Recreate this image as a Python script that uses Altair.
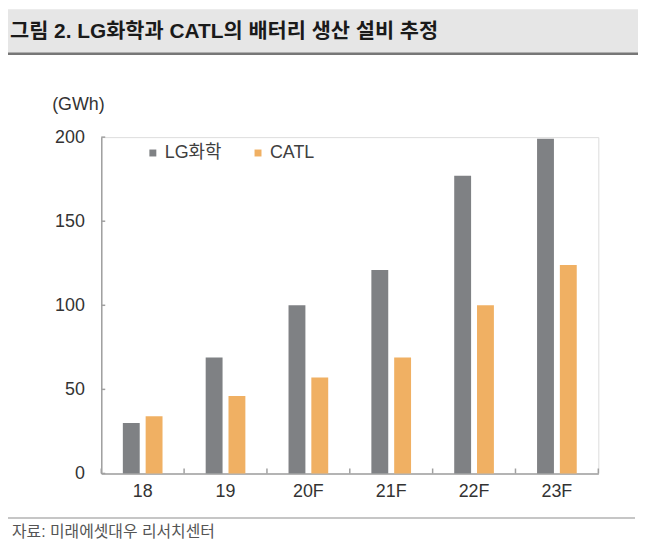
import altair as alt
import pandas as pd

# ---- data ----
categories = ["18", "19", "20F", "21F", "22F", "23F"]
series = ["LG화학", "CATL"]
lg_values = [30, 69, 100, 121, 177, 199]
catl_values = [34, 46, 57, 69, 100, 124]
y_ticks = [0, 50, 100, 150, 200]
colors = ["#7f8184", "#f0b063"]

title_text = "그림 2. LG화학과 CATL의 배터리 생산 설비 추정"
source_text = "자료: 미래에셋대우 리서치센터"
unit_text = "(GWh)"

FONT = "'Liberation Sans', 'Noto Sans CJK KR', sans-serif"
W, H = 501, 339
AXIS = "#a0a0a0"
LABEL = "#333333"

df = pd.DataFrame({
    "연도": categories * 2,
    "구분": [series[0]] * len(categories) + [series[1]] * len(categories),
    "값": lg_values + catl_values,
})
one = alt.Data(values=[{"k": 1}])

x_enc = alt.X(
    "연도:N", sort=categories,
    scale=alt.Scale(paddingInner=0, paddingOuter=0),
    axis=alt.Axis(title=None, labelAngle=0, ticks=False, labelPadding=9,
                  labelFontSize=18, labelColor=LABEL, domainColor=AXIS,
                  domainWidth=1.5, labelFont=FONT),
)

bars = alt.Chart(df).mark_bar().encode(
    x=x_enc,
    xOffset=alt.XOffset("구분:N", sort=series,
                        scale=alt.Scale(paddingInner=0.26, paddingOuter=0.946)),
    y=alt.Y("값:Q", scale=alt.Scale(domain=[0, 200], nice=False),
            axis=alt.Axis(values=y_ticks, title=unit_text, titleAngle=0,
                          titleX=-50, titleY=-33, titleAlign="left",
                          titleBaseline="middle", titleFontSize=18,
                          titleFontWeight="normal", titleColor=LABEL, titleFont=FONT,
                          ticks=False, grid=False, labelPadding=17,
                          labelFontSize=18, labelColor=LABEL, labelFont=FONT,
                          domainColor=AXIS, domainWidth=1.5)),
    color=alt.Color("구분:N", sort=series,
                    scale=alt.Scale(domain=series, range=colors),
                    legend=alt.Legend(orient="none", legendX=43, legendY=7,
                                      direction="horizontal", title=None,
                                      symbolType="square", symbolSize=49,
                                      symbolStrokeWidth=0, labelFontSize=18,
                                      labelColor="#404040", labelFont=FONT,
                                      labelOffset=3, columnPadding=27, padding=0)),
)

ytick_rules = alt.Chart(pd.DataFrame({"값": y_ticks})).mark_rule(
    color=AXIS, strokeWidth=1.5).encode(
    y="값:Q", x=alt.value(0), x2=alt.value(4))

xtick_rules = alt.Chart(pd.DataFrame({"연도": categories})).mark_rule(
    color=AXIS, strokeWidth=1.5).encode(
    x=alt.X("연도:N", sort=categories, bandPosition=0),
    y=alt.value(H - 5), y2=alt.value(H))

xtick_end = alt.Chart(pd.DataFrame({"연도": categories[-1:]})).mark_rule(
    color=AXIS, strokeWidth=1.5).encode(
    x=alt.X("연도:N", sort=categories, bandPosition=1),
    y=alt.value(H - 5), y2=alt.value(H))

title_band = alt.Chart(one).mark_rect(color="#e6e6e6").encode(
    x=alt.value(-94), x2=alt.value(541), y=alt.value(-129), y2=alt.value(-84))
title_line = alt.Chart(one).mark_rule(color="#777777", strokeWidth=2.5).encode(
    x=alt.value(-94), x2=alt.value(541), y=alt.value(-84))
title_mark = alt.Chart(one).mark_text(
    text=title_text, font=FONT, fontSize=21, fontWeight="bold", color="#1a1a1a",
    align="left", baseline="middle").encode(x=alt.value(-92), y=alt.value(-106))

footer_line = alt.Chart(one).mark_rule(color="#b3b3b3", strokeWidth=1.5).encode(
    x=alt.value(-94), x2=alt.value(538), y=alt.value(384))
footer_mark = alt.Chart(one).mark_text(
    text=source_text, font=FONT, fontSize=16, color="#555555",
    align="left", baseline="middle").encode(x=alt.value(-90), y=alt.value(398))

chart = alt.layer(
    title_band, title_line, title_mark, footer_line, footer_mark,
    bars, ytick_rules, xtick_rules, xtick_end,
).properties(
    width=W, height=H,
    autosize=alt.AutoSizeParams(type="none"),
    padding={"left": 94, "top": 128, "right": 41, "bottom": 75},
).configure_view(strokeWidth=0).configure(font=FONT)

chart.save("out.html", embed_options={"renderer": "svg", "actions": False})
